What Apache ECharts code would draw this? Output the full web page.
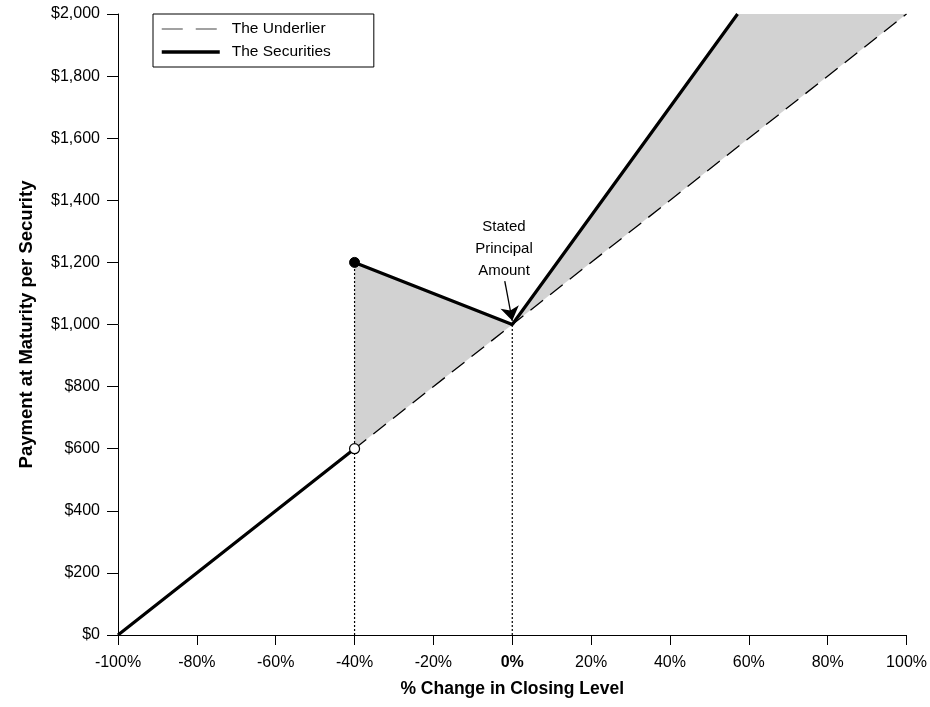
<!DOCTYPE html>
<html>
<head>
<meta charset="utf-8">
<script src="https://cdn.jsdelivr.net/npm/echarts@6/dist/echarts.min.js"></script>
<style>
  html, body { margin: 0; padding: 0; background: #fff; }
  #chart { width: 930px; height: 707px; }
</style>
</head>
<body>
<div id="chart"></div>
<script>
// values
var xTicks = [-100, -80, -60, -40, -20, 0, 20, 40, 60, 80, 100];
var yTicks = [0, 200, 400, 600, 800, 1000, 1200, 1400, 1600, 1800, 2000];

// underlier: payment = 1000 * (1 + change)
var underlier = [[-100, 0], [100, 2000]];

// securities: 1:1 below -40%, absolute return between -40% and 0%, 1.75x upside up to the cap
var securities = [[-100, 0], [-40, 600], [-40, '-'], [-40, 1200], [0, 1000], [57.14, 2000]];

// shaded regions between the securities and the underlier
var shadeLeft = [[-40, 1200], [0, 1000], [-40, 600]];
var shadeRight = [[0, 1000], [57.14, 2000], [100, 2000]];
var shades = [shadeLeft, shadeRight];

// dotted drop lines
var dropLines = [[-40, 0], [-40, 1200], [-40, '-'], [0, 0], [0, 1000]];

var filledDot = [[-40, 1200]];
var openDot = [[-40, 600]];

// annotation
var noteText = ['Stated', 'Principal', 'Amount'];
var notePos = [[-2.1, 1243]];
var noteArrow = [[-1.9, 1140], [0, 1012]];

var font = 'Liberation Sans, Arial, sans-serif';

var chart = echarts.init(document.getElementById('chart'));

var option = {
    animation: false,
    backgroundColor: '#fff',
    textStyle: { fontFamily: font, color: '#000' },
    grid: { left: 118, right: 21, top: 14, bottom: 72 },
    legend: {
        left: 153,
        top: 14,
        orient: 'vertical',
        data: [
            { name: 'The Underlier', lineStyle: { color: '#444', width: 1.2, type: [21, 13] } },
            { name: 'The Securities', lineStyle: { color: '#000', width: 3.5 } }
        ],
        itemWidth: 58,
        itemHeight: 14,
        itemGap: 7,
        padding: [7, 43, 7, 7],
        borderColor: '#000',
        borderWidth: 1,
        borderRadius: 0,
        selectedMode: false,
        itemStyle: { opacity: 0 },
        textStyle: { fontFamily: font, fontSize: 15.5, color: '#000', padding: [0, 0, 0, 7] }
    },
    xAxis: {
        type: 'value',
        min: xTicks[0],
        max: xTicks[xTicks.length - 1],
        interval: 20,
        name: '% Change in Closing Level',
        nameLocation: 'middle',
        nameGap: 45,
        nameTextStyle: { fontFamily: font, fontSize: 17.5, fontWeight: 'bold', color: '#000' },
        axisLine: { show: true, onZero: false, lineStyle: { color: '#000', width: 1 } },
        axisTick: { show: true, length: 10, lineStyle: { color: '#000' } },
        splitLine: { show: false },
        axisLabel: {
            margin: 20,
            fontSize: 16,
            color: '#000',
            fontFamily: font,
            formatter: function (v) {
                return v === 0 ? '{b|0%}' : v + '%';
            },
            rich: { b: { fontWeight: 'bold', fontSize: 16, fontFamily: font, color: '#000' } }
        }
    },
    yAxis: {
        type: 'value',
        min: yTicks[0],
        max: yTicks[yTicks.length - 1],
        interval: 200,
        name: 'Payment at Maturity per Security',
        nameLocation: 'middle',
        nameGap: 82,
        nameTextStyle: { fontFamily: font, fontSize: 18.5, fontWeight: 'bold', color: '#000' },
        axisLine: { show: true, onZero: false, lineStyle: { color: '#000', width: 1 } },
        axisTick: { show: true, length: 11, lineStyle: { color: '#000' } },
        splitLine: { show: false },
        axisLabel: {
            margin: 18,
            fontSize: 16,
            color: '#000',
            fontFamily: font,
            formatter: function (v) {
                return '$' + v.toLocaleString('en-US');
            }
        }
    },
    series: [
        {
            name: 'shade',
            type: 'custom',
            z: 1,
            silent: true,
            data: [[0], [1]],
            renderItem: function (params, api) {
                var poly = shades[api.value(0)];
                var pts = poly.map(function (p) { return api.coord(p); });
                return {
                    type: 'polygon',
                    shape: { points: pts },
                    style: { fill: '#d2d2d2', stroke: 'none' }
                };
            }
        },
        {
            name: 'drop',
            type: 'line',
            z: 2,
            silent: true,
            symbol: 'none',
            data: dropLines,
            lineStyle: { color: '#000', width: 1.2, type: [2, 2] }
        },
        {
            name: 'The Underlier',
            type: 'line',
            z: 3,
            symbol: 'none',
            data: underlier,
            lineStyle: { color: '#000', width: 1.3, type: [16, 9] },
            itemStyle: { color: '#000' }
        },
        {
            name: 'The Securities',
            type: 'line',
            z: 4,
            symbol: 'none',
            data: securities,
            lineStyle: { color: '#000', width: 3.2 },
            itemStyle: { color: '#000' }
        },
        {
            name: 'filled',
            type: 'scatter',
            z: 5,
            symbolSize: 10,
            data: filledDot,
            itemStyle: { color: '#000', borderColor: '#000', borderWidth: 1, opacity: 1 }
        },
        {
            name: 'open',
            type: 'scatter',
            z: 5,
            symbolSize: 10,
            data: openDot,
            itemStyle: { color: '#fff', borderColor: '#000', borderWidth: 1.2, opacity: 1 }
        },
        {
            name: 'note',
            type: 'scatter',
            z: 6,
            symbolSize: 0,
            data: notePos,
            itemStyle: { opacity: 1 },
            label: {
                show: true,
                position: 'inside',
                formatter: noteText.join('\n'),
                fontFamily: font,
                fontSize: 15,
                lineHeight: 22,
                color: '#000',
                opacity: 1,
                textBorderWidth: 0,
                align: 'center'
            }
        },
        {
            name: 'arrow',
            type: 'lines',
            coordinateSystem: 'cartesian2d',
            z: 6,
            symbol: ['none', 'arrow'],
            symbolSize: [9, 14],
            data: [{ coords: noteArrow }],
            lineStyle: { color: '#000', width: 1.3, opacity: 1 },
            itemStyle: { color: '#000' }
        }
    ]
};

chart.setOption(option);
</script>
</body>
</html>
